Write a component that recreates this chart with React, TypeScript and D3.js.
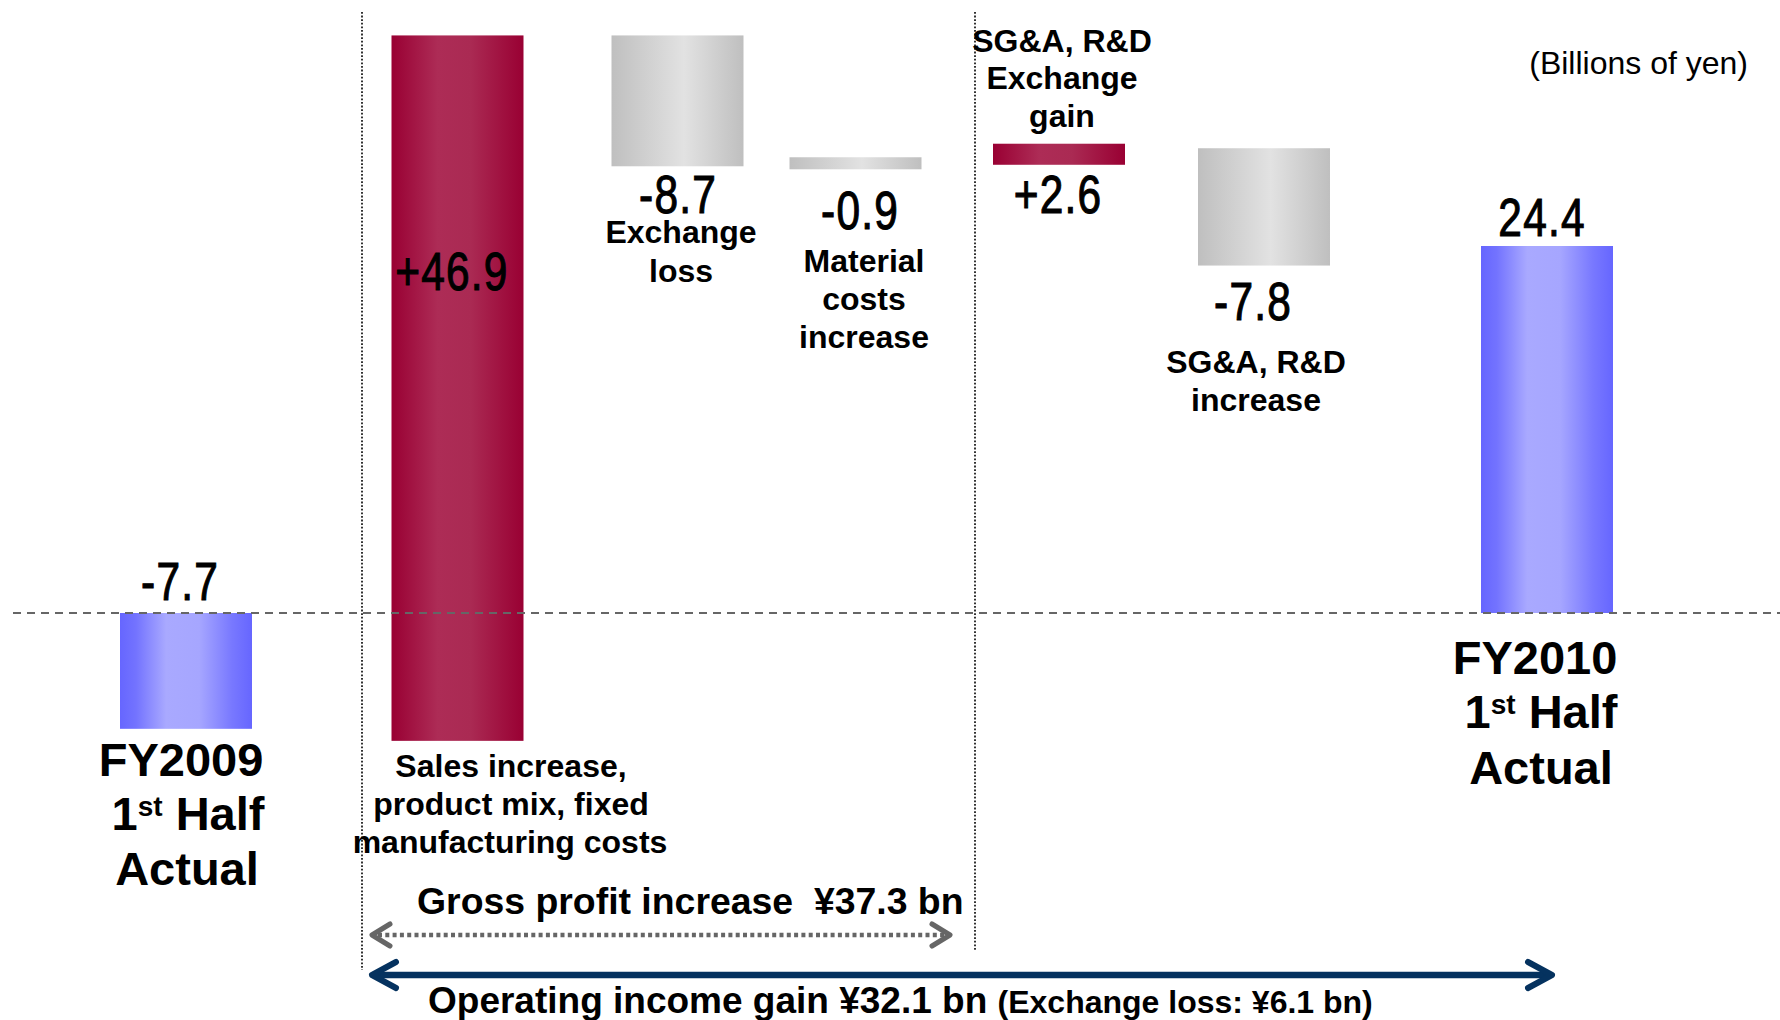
import React from "react";
import * as d3 from "d3";

// ---------- data ----------
const categories = [
  "FY2009 1st Half Actual",
  "Sales increase, product mix, fixed manufacturing costs",
  "Exchange loss",
  "Material costs increase",
  "SG&A, R&D Exchange gain",
  "SG&A, R&D increase",
  "FY2010 1st Half Actual",
];
const values = [-7.7, 46.9, -8.7, -0.9, 2.6, -7.8, 24.4];
// drawn extents of each bar (billions of yen, as drawn in the schematic)
const barStarts = [0, -8.5, 38.4, 30.3, 29.8, 30.9, 0];
const barEnds = [-7.7, 38.4, 29.7, 29.5, 31.2, 23.1, 24.4];
const barKinds = ["total", "up", "down", "down", "up", "down", "total"];
const valueLabels = ["-7.7", "+46.9", "-8.7", "-0.9", "+2.6", "-7.8", "24.4"];
const categoryLines = [
  ["FY2009", "1|st| Half", "Actual"],
  ["Sales increase,", "product mix, fixed", "manufacturing costs"],
  ["Exchange", "loss"],
  ["Material", "costs", "increase"],
  ["SG&A, R&D", "Exchange", "gain"],
  ["SG&A, R&D", "increase"],
  ["FY2010", "1|st| Half", "Actual"],
];
const unitLabel = "(Billions of yen)";
const grossProfitLabel = "Gross profit increase  ¥37.3 bn";
const opIncomeLabel = "Operating income gain ¥32.1 bn";
const opIncomeNote = "(Exchange loss: ¥6.1 bn)";

// ---------- layout ----------
const W = 1780;
const H = 1020;
const BAR_W = 132;
const barCenters = [186, 457.5, 677.5, 855.5, 1059, 1264, 1547];
const valueLabelPos = [
  [180, 600], [452, 290], [678, 213], [860, 229], [1058, 213], [1253, 320], [1542, 236],
];
const catLabelPos: number[][][] = [
  [[181, 776], [188, 830], [187, 885]],
  [[511, 777], [511, 815], [510, 853]],
  [[681, 243], [681, 282]],
  [[864, 272], [864, 310], [864, 348]],
  [[1062, 52], [1062, 89], [1062, 127]],
  [[1256, 373], [1256, 411]],
  [[1535, 674], [1541, 728], [1541, 784]],
];

const NUM_FONT = "'Liberation Sans', Arial, sans-serif";
const TXT_FONT = "'Liberation Sans', Arial, sans-serif";

const fills: Record<string, string> = {
  total: "url(#gBlue)",
  up: "url(#gRed)",
  down: "url(#gGrey)",
};

function Chevron({ x, y, dir, dx, dy, color, sw }: any) {
  const path = d3.path();
  path.moveTo(x + dir * dx, y - dy);
  path.lineTo(x, y);
  path.lineTo(x + dir * dx, y + dy);
  return (
    <path d={path.toString()} fill="none" stroke={color} strokeWidth={sw}
      strokeLinecap="round" strokeLinejoin="round" />
  );
}

function CatLine({ text, x, y, size }: any) {
  if (text.includes("|")) {
    const [a, sup, b] = text.split("|");
    const small = Math.round(size * 0.6);
    return (
      <text x={x} y={y} textAnchor="middle" fontSize={size} fontWeight="bold"
        fontFamily={TXT_FONT} style={{ whiteSpace: "pre" }}>
        <tspan>{a}</tspan>
        <tspan fontSize={small} dy={-14}>{sup}</tspan>
        <tspan dy={14}>{b}</tspan>
      </text>
    );
  }
  return (
    <text x={x} y={y} textAnchor="middle" fontSize={size} fontWeight="bold"
      fontFamily={TXT_FONT} style={{ whiteSpace: "pre" }}>{text}</text>
  );
}

export default function App() {
  const x = d3.scaleOrdinal<string, number>().domain(categories).range(barCenters);
  const y = d3.scaleLinear().domain([0, 24.4]).range([613, 246]);

  const zeroY = y(0);
  const vLine1 = 362;
  const vLine2 = 975;
  const grossY = 935;
  const opY = 975;
  const arrowL = 372;

  return (
    <svg width={W} height={H} viewBox={`0 0 ${W} ${H}`}
      style={{ position: "absolute", left: 0, top: 0, background: "#fff", display: "block" }}>
      <defs>
        <linearGradient id="gBlue" x1="0" x2="1" y1="0" y2="0">
          <stop offset="0" stopColor="#6666ff" />
          <stop offset="0.12" stopColor="#7373ff" />
          <stop offset="0.35" stopColor="#a9a9ff" />
          <stop offset="0.6" stopColor="#a6a6ff" />
          <stop offset="0.85" stopColor="#7878ff" />
          <stop offset="1" stopColor="#6666ff" />
        </linearGradient>
        <linearGradient id="gRed" x1="0" x2="1" y1="0" y2="0">
          <stop offset="0" stopColor="#990033" />
          <stop offset="0.35" stopColor="#ad2c56" />
          <stop offset="0.6" stopColor="#aa2a53" />
          <stop offset="1" stopColor="#990033" />
        </linearGradient>
        <linearGradient id="gGrey" x1="0" x2="1" y1="0" y2="0">
          <stop offset="0" stopColor="#bfbfbf" />
          <stop offset="0.55" stopColor="#e2e2e2" />
          <stop offset="1" stopColor="#bfbfbf" />
        </linearGradient>
      </defs>

      {/* vertical dotted separators */}
      <line x1={vLine1} x2={vLine1} y1={12} y2={970} stroke="#000" strokeWidth={1.6} strokeDasharray="1.8,1.8" />
      <line x1={vLine2} x2={vLine2} y1={12} y2={951} stroke="#000" strokeWidth={1.6} strokeDasharray="1.8,1.8" />

      {/* bars */}
      {categories.map((c, i) => {
        const y0 = y(barStarts[i]);
        const y1 = y(barEnds[i]);
        return (
          <rect key={c} x={(x(c) as number) - BAR_W / 2} width={BAR_W}
            y={Math.min(y0, y1)} height={Math.abs(y1 - y0)} fill={fills[barKinds[i]]} />
        );
      })}

      {/* zero line */}
      <line x1={13} x2={W} y1={zeroY} y2={zeroY} stroke="#666" strokeWidth={2} strokeDasharray="8,6" />

      {/* value labels (condensed numerals) */}
      {values.map((v, i) => (
        <text key={"v" + i} transform={`translate(${valueLabelPos[i][0]},${valueLabelPos[i][1]}) scale(0.8,1)`}
          textAnchor="middle" fontSize={53} fontFamily={NUM_FONT} fill="#000"
          stroke="#000" strokeWidth={1.1} letterSpacing={1.5}>{valueLabels[i]}</text>
      ))}

      {/* category labels */}
      {categoryLines.map((lines, i) =>
        lines.map((t, j) => (
          <CatLine key={i + "-" + j} text={t} x={catLabelPos[i][j][0]} y={catLabelPos[i][j][1]}
            size={i === 0 || i === 6 ? 47 : 32} />
        ))
      )}

      {/* unit */}
      <text x={1748} y={74} textAnchor="end" fontSize={32} fontFamily={TXT_FONT}>{unitLabel}</text>

      {/* gross profit arrow */}
      <text x={417} y={914} fontSize={37.4} fontWeight="bold" fontFamily={TXT_FONT}
        style={{ whiteSpace: "pre" }}>{grossProfitLabel}</text>
      <line x1={arrowL + 6} x2={950 - 6} y1={grossY} y2={grossY} stroke="#666" strokeWidth={4.5}
        strokeDasharray="4,3.3" />
      <Chevron x={arrowL} y={grossY} dir={1} dx={18} dy={11} color="#666" sw={5} />
      <Chevron x={950} y={grossY} dir={-1} dx={18} dy={11} color="#666" sw={5} />

      {/* operating income arrow */}
      <line x1={arrowL + 3} x2={1552 - 3} y1={opY} y2={opY} stroke="#05325f" strokeWidth={6.5} />
      <Chevron x={arrowL} y={opY} dir={1} dx={24} dy={13} color="#05325f" sw={6} />
      <Chevron x={1552} y={opY} dir={-1} dx={24} dy={13} color="#05325f" sw={6} />
      <text x={428} y={1013} fontSize={37} fontWeight="bold" fontFamily={TXT_FONT}
        style={{ whiteSpace: "pre" }}>
        {opIncomeLabel + " "}
        <tspan fontSize={32}>{opIncomeNote}</tspan>
      </text>
    </svg>
  );
}
